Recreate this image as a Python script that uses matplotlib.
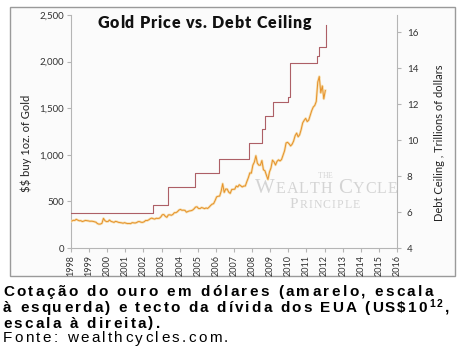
import matplotlib
matplotlib.use('Agg')
import matplotlib.pyplot as plt
import numpy as np
from matplotlib.patches import Rectangle
from matplotlib.font_manager import FontProperties

plt.rcParams['text.parse_math'] = False

# monthly gold price, US$ / oz, Jan 1998 .. Jan 2012
gold_1998 = [289, 297, 296, 308, 299, 292, 293, 284, 289, 296, 294, 291]
gold_1999 = [287, 288, 286, 282, 277, 262, 256, 257, 265, 318, 293, 283]
gold_2000 = [284, 300, 286, 280, 275, 286, 282, 275, 273, 270, 266, 272]
gold_2001 = [266, 262, 263, 261, 272, 270, 268, 273, 283, 283, 276, 275]
gold_2002 = [282, 296, 294, 302, 314, 321, 314, 310, 319, 317, 319, 333]
gold_2003 = [357, 359, 340, 329, 355, 356, 351, 360, 379, 379, 389, 407]
gold_2004 = [414, 405, 406, 404, 384, 392, 398, 400, 406, 420, 439, 442]
gold_2005 = [424, 423, 434, 429, 422, 430, 424, 438, 456, 470, 476, 510]
gold_2006 = [549, 555, 557, 610, 690, 596, 633, 632, 599, 586, 628, 629]
gold_2007 = [631, 665, 655, 679, 667, 655, 665, 665, 712, 754, 806, 803]
gold_2008 = [889, 922, 990, 909, 888, 889, 939, 839, 829, 780, 735, 816]
gold_2009 = [859, 943, 924, 890, 929, 946, 934, 949, 996, 1043, 1127, 1134]
gold_2010 = [1118, 1095, 1113, 1148, 1205, 1233, 1193, 1215, 1271, 1342, 1370, 1391]
gold_2011 = [1356, 1372, 1424, 1474, 1512, 1529, 1572, 1780, 1840, 1665, 1739, 1600]
gold_2012 = [1690]

gold = (gold_1998 + gold_1999 + gold_2000 + gold_2001 + gold_2002 + gold_2003
        + gold_2004 + gold_2005 + gold_2006 + gold_2007 + gold_2008 + gold_2009
        + gold_2010 + gold_2011 + gold_2012)
gold_dates = 1998 + np.arange(len(gold)) / 12 + 1 / 24

# debt ceiling, trillions of dollars (date it took effect)
ceiling_dates = [1998.0, 2002.51, 2003.38, 2004.85, 2006.19, 2007.83, 2008.56,
                 2008.72, 2009.14, 2010.0, 2010.1, 2011.59, 2011.67, 2012.07]
ceiling_values = [5.95, 6.4, 7.384, 8.184, 8.965, 9.815, 10.615,
                  11.315, 12.104, 12.394, 14.294, 14.694, 15.194, 16.394]

years = list(range(1998, 2017))
gold_ticks = [0, 500, 1000, 1500, 2000, 2500]
ceiling_ticks = [4, 6, 8, 10, 12, 14, 16]

W, H = 463, 358
fig = plt.figure(figsize=(W / 100, H / 100), dpi=100)
fig.patch.set_facecolor('white')

# gray frame round the chart
fig.patches.append(Rectangle((10 / W, 1 - 276 / H), 445 / W, 269 / H,
                             transform=fig.transFigure, fill=True,
                             fc='#fbfbfb', ec='#9a9a9a', lw=1, zorder=-5))

ax = fig.add_axes([71 / W, 1 - 248 / H, 326 / W, 233 / H])
ax.set_facecolor('none')
ax.set_xlim(1998, 2016)
ax.set_ylim(0, 2500)

ax2 = ax.twinx()
ax2.set_ylim(4, 4 + 233 / 18)

spine_col = '#b5b5b5'
for a in (ax, ax2):
    a.spines['top'].set_visible(False)
    for s in ('left', 'right', 'bottom'):
        a.spines[s].set_color(spine_col)
        a.spines[s].set_linewidth(0.8)
ax.spines['right'].set_visible(False)
ax2.spines['left'].set_visible(False)
ax2.spines['bottom'].set_visible(False)

lab_font = 'Lato'
ax.set_xticks(years)
ax.set_xticklabels([str(y) for y in years], rotation=90, fontsize=6.5,
                   family=lab_font, color='#333333')
ax.set_yticks(gold_ticks)
ax.set_yticklabels(['{:,}'.format(v) for v in gold_ticks], fontsize=7,
                   family=lab_font, color='#333333')
ax2.set_yticks(ceiling_ticks)
ax2.set_yticklabels([str(v) for v in ceiling_ticks], fontsize=7,
                    family=lab_font, color='#333333')
ax.tick_params(axis='both', length=3, width=0.8, color=spine_col, pad=2)
ax2.tick_params(axis='y', length=3, width=0.8, color=spine_col, pad=4)

ax.set_ylabel('$$ buy 1oz. of Gold', fontsize=8, family=lab_font, color='#222222')
ax.yaxis.set_label_coords(-0.12, 0.45)
ax2.set_ylabel('Debt Ceiling , Trillions of dollars', fontsize=8,
               family=lab_font, color='#222222')
ax2.yaxis.set_label_coords(1.115, 0.45)

# data
ax.plot(gold_dates, gold, color='#f7dfb0', lw=1.8, zorder=3, solid_joinstyle='round')
ax.plot(gold_dates, gold, color='#e5912a', lw=0.7, zorder=4)
ax2.plot(ceiling_dates, ceiling_values, drawstyle='steps-post',
         color='#ad5f66', lw=0.8, zorder=2)

# text placed letter by letter (tracking), positions in pixels from top-left
renderer = fig.canvas.get_renderer()


def advance(ch, fp):
    w1, _, _ = renderer.get_text_width_height_descent('|' + ch + '|', fp, ismath=False)
    w0, _, _ = renderer.get_text_width_height_descent('||', fp, ismath=False)
    return w1 - w0


def spaced(x, base, parts, width=None, color='black', zorder=3):
    # parts: list of (text, fontprops, rise_px); spread the line over width px
    n = sum(len(s) for s, _, _ in parts)
    nat = sum(advance(c, fp) for s, fp, _ in parts for c in s)
    track = 0 if width is None else (width - nat) / (n - 1)
    for s, fp, rise in parts:
        for ch in s:
            fig.text(x / W, 1 - (base - rise) / H, ch, fontproperties=fp,
                     ha='left', va='baseline', color=color, zorder=zorder)
            x += advance(ch, fp) + track


# title
title_fp = FontProperties(family=lab_font, weight='heavy', size=11.5)
spaced(97, 27.5, [('Gold Price vs. Debt Ceiling', title_fp, 0)], 214, color='#111111')

# watermark (small caps look)
big = FontProperties(family='Liberation Serif', size=15)
small = FontProperties(family='Liberation Serif', size=11.5)
pbig = FontProperties(family='Liberation Serif', size=11)
psmall = FontProperties(family='Liberation Serif', size=8.5)
tiny = FontProperties(family='Liberation Serif', size=5.5)
wm_col = '#d4d4d4'
spaced(318, 178, [('THE', tiny, 0)], color=wm_col, zorder=-1)
spaced(255, 193, [('W', big, 0), ('EALTH ', small, 0), ('C', big, 0), ('YCLE', small, 0)],
       142, color=wm_col, zorder=-1)
spaced(290, 208, [('P', pbig, 0), ('RINCIPLE', psmall, 0)], 70, color=wm_col, zorder=-1)

# caption
bold = FontProperties(family='Liberation Sans', weight='bold', size=11)
sup = FontProperties(family='Liberation Sans', weight='bold', size=7.5)
norm = FontProperties(family='Liberation Sans', size=11)

spaced(3, 296, [('Cotação do ouro em dólares (amarelo, escala', bold, 0)], 430)
spaced(3, 312, [('à esquerda) e tecto da dívida dos EUA (US$10', bold, 0),
                ('12', sup, 5), (',', bold, 0)], 446)
spaced(3, 327.5, [('escala à direita).', bold, 0)], 157)
spaced(3, 342.5, [('Fonte: wealthcycles.com.', norm, 0)], 225)

fig.savefig('out.png', dpi=100)
